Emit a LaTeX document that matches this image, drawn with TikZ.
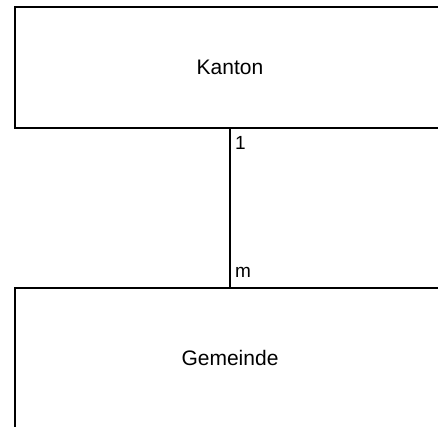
\documentclass[tikz,border=0pt]{standalone}
\usepackage{fontspec}
\setmainfont{Liberation Sans}
\tikzset{entity/.style={draw, line width=2pt, minimum width=430pt, inner sep=0pt},
  card/.style={right, inner sep=4pt, font=\fontsize{19}{19}\selectfont}}
\begin{document}
\begin{tikzpicture}[x=1pt,y=1pt,font=\fontsize{21}{21}\selectfont]
      \useasboundingbox (0,0) rectangle (438,426);
      \node [entity, minimum height=121pt] (kanton) at (230,358.5) {Kanton};
      \node [entity, minimum height=140pt] (gemeinde) at (230,68) {Gemeinde};
      \draw [line width=2pt] (kanton) -- node [card,pos=0.09] {1} node [card,pos=0.91] {m} (gemeinde);
    \end{tikzpicture}
\end{document}
